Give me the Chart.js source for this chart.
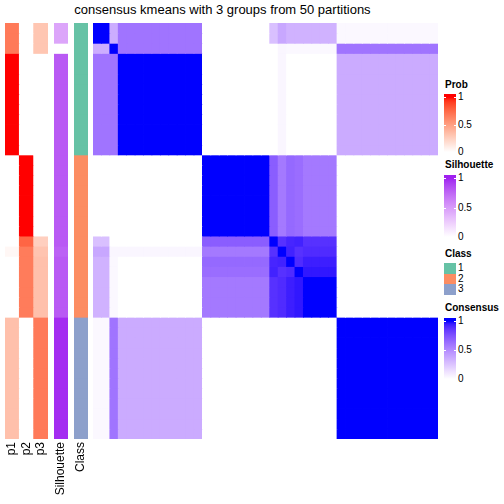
<!DOCTYPE html>
<html>
<head>
<meta charset="utf-8">
<script src="https://cdn.jsdelivr.net/npm/chart.js@4/dist/chart.umd.min.js"></script>
<style>
  body { margin: 0; background: #fff; width: 504px; height: 504px; overflow: hidden; position: relative;
         font-family: "Liberation Sans", Arial, Helvetica, sans-serif; }
  .box { position: absolute; }
  .lg { position: absolute; font-size: 10px; line-height: 12px; white-space: nowrap; color: #000; }
  .lg.t { font-weight: bold; }
</style>
</head>
<body>
<div id="title" class="box" style="left:0;top:2px;width:445px;text-align:center;font-size:13px;line-height:16px;">consensus kmeans with 3 groups from 50 partitions</div>
<div class="box" style="left:5px;top:23px;width:43px;height:486px"><canvas id="probChart"></canvas></div>
<div class="box" style="left:54px;top:23px;width:14px;height:486px"><canvas id="silChart"></canvas></div>
<div class="box" style="left:74px;top:23px;width:14px;height:486px"><canvas id="classChart"></canvas></div>
<div class="box" style="left:93px;top:23px;width:345px;height:416px"><canvas id="consChart"></canvas></div>
<div id="legends"></div>
<script>
"use strict";

// ---- data (41 samples, in plotted order) ----
var classes = [1,1,1,1,1,1,1,1,1,1,1,1,1,
               2,2,2,2,2,2,2,2,2,2,2,2,2,2,2,2,
               3,3,3,3,3,3,3,3,3,3,3,3];
var p1 = [.67,.67,.67,1,1,1,1,1,1,1,1,1,1,
          0,0,0,0,0,0,0,0,0,.04,0,0,0,0,0,0,
          .33,.33,.33,.33,.33,.33,.33,.33,.33,.33,.33,.33];
var p2 = [0,0,0,0,0,0,0,0,0,0,0,0,0,
          1,1,1,1,1,1,1,1,.76,.66,.66,.66,.66,.66,.66,.66,
          0,0,0,0,0,0,0,0,0,0,0,0];
var p3 = [.3,.3,.3,0,0,0,0,0,0,0,0,0,0,
          0,0,0,0,0,0,0,0,.25,.31,.33,.33,.33,.33,.33,.33,
          .67,.67,.67,.67,.67,.67,.67,.67,.67,.67,.67,.67];
var silhouette = [.45,.45,0,.8,.8,.8,.8,.8,.8,.8,.8,.8,.8,
                  .8,.8,.8,.8,.8,.8,.8,.8,.8,.77,.8,.8,.8,.8,.8,.8,
                  .97,.97,.97,.97,.97,.97,.97,.97,.97,.97,.97,.97];
var consensus = [
  [1,1,.35,.6,.6,.6,.6,.6,.6,.6,.6,.6,.6,0,0,0,0,0,0,0,0,.27,.38,.33,.33,.33,.33,.33,.33,.03,.03,.03,.03,.03,.03,.03,.03,.03,.03,.03,.03],
  [1,1,.35,.6,.6,.6,.6,.6,.6,.6,.6,.6,.6,0,0,0,0,0,0,0,0,.27,.38,.33,.33,.33,.33,.33,.33,.03,.03,.03,.03,.03,.03,.03,.03,.03,.03,.03,.03],
  [.35,.35,1,.6,.6,.6,.6,.6,.6,.6,.6,.6,.6,0,0,0,0,0,0,0,0,0,.04,.03,.03,.03,.03,.03,.03,.6,.6,.6,.6,.6,.6,.6,.6,.6,.6,.6,.6],
  [.6,.6,.6,1,1,1,1,1,1,1,1,1,1,0,0,0,0,0,0,0,0,0,.04,0,0,0,0,0,0,.36,.36,.36,.36,.36,.36,.36,.36,.36,.36,.36,.36],
  [.6,.6,.6,1,1,1,1,1,1,1,1,1,1,0,0,0,0,0,0,0,0,0,.04,0,0,0,0,0,0,.36,.36,.36,.36,.36,.36,.36,.36,.36,.36,.36,.36],
  [.6,.6,.6,1,1,1,1,1,1,1,1,1,1,0,0,0,0,0,0,0,0,0,.04,0,0,0,0,0,0,.36,.36,.36,.36,.36,.36,.36,.36,.36,.36,.36,.36],
  [.6,.6,.6,1,1,1,1,1,1,1,1,1,1,0,0,0,0,0,0,0,0,0,.04,0,0,0,0,0,0,.36,.36,.36,.36,.36,.36,.36,.36,.36,.36,.36,.36],
  [.6,.6,.6,1,1,1,1,1,1,1,1,1,1,0,0,0,0,0,0,0,0,0,.04,0,0,0,0,0,0,.36,.36,.36,.36,.36,.36,.36,.36,.36,.36,.36,.36],
  [.6,.6,.6,1,1,1,1,1,1,1,1,1,1,0,0,0,0,0,0,0,0,0,.04,0,0,0,0,0,0,.36,.36,.36,.36,.36,.36,.36,.36,.36,.36,.36,.36],
  [.6,.6,.6,1,1,1,1,1,1,1,1,1,1,0,0,0,0,0,0,0,0,0,.04,0,0,0,0,0,0,.36,.36,.36,.36,.36,.36,.36,.36,.36,.36,.36,.36],
  [.6,.6,.6,1,1,1,1,1,1,1,1,1,1,0,0,0,0,0,0,0,0,0,.04,0,0,0,0,0,0,.36,.36,.36,.36,.36,.36,.36,.36,.36,.36,.36,.36],
  [.6,.6,.6,1,1,1,1,1,1,1,1,1,1,0,0,0,0,0,0,0,0,0,.04,0,0,0,0,0,0,.36,.36,.36,.36,.36,.36,.36,.36,.36,.36,.36,.36],
  [.6,.6,.6,1,1,1,1,1,1,1,1,1,1,0,0,0,0,0,0,0,0,0,.04,0,0,0,0,0,0,.36,.36,.36,.36,.36,.36,.36,.36,.36,.36,.36,.36],
  [0,0,0,0,0,0,0,0,0,0,0,0,0,1,1,1,1,1,1,1,1,.7,.58,.65,.63,.58,.58,.58,.58,0,0,0,0,0,0,0,0,0,0,0,0],
  [0,0,0,0,0,0,0,0,0,0,0,0,0,1,1,1,1,1,1,1,1,.7,.58,.65,.63,.58,.58,.58,.58,0,0,0,0,0,0,0,0,0,0,0,0],
  [0,0,0,0,0,0,0,0,0,0,0,0,0,1,1,1,1,1,1,1,1,.7,.58,.65,.63,.58,.58,.58,.58,0,0,0,0,0,0,0,0,0,0,0,0],
  [0,0,0,0,0,0,0,0,0,0,0,0,0,1,1,1,1,1,1,1,1,.7,.58,.65,.63,.58,.58,.58,.58,0,0,0,0,0,0,0,0,0,0,0,0],
  [0,0,0,0,0,0,0,0,0,0,0,0,0,1,1,1,1,1,1,1,1,.7,.58,.65,.63,.58,.58,.58,.58,0,0,0,0,0,0,0,0,0,0,0,0],
  [0,0,0,0,0,0,0,0,0,0,0,0,0,1,1,1,1,1,1,1,1,.7,.58,.65,.63,.58,.58,.58,.58,0,0,0,0,0,0,0,0,0,0,0,0],
  [0,0,0,0,0,0,0,0,0,0,0,0,0,1,1,1,1,1,1,1,1,.7,.58,.65,.63,.58,.58,.58,.58,0,0,0,0,0,0,0,0,0,0,0,0],
  [0,0,0,0,0,0,0,0,0,0,0,0,0,1,1,1,1,1,1,1,1,.7,.58,.65,.63,.58,.58,.58,.58,0,0,0,0,0,0,0,0,0,0,0,0],
  [.27,.27,0,0,0,0,0,0,0,0,0,0,0,.7,.7,.7,.7,.7,.7,.7,.7,1,.88,.92,.93,.88,.88,.88,.88,0,0,0,0,0,0,0,0,0,0,0,0],
  [.38,.38,.04,.04,.04,.04,.04,.04,.04,.04,.04,.04,.04,.58,.58,.58,.58,.58,.58,.58,.58,.88,1,.93,.88,.9,.9,.9,.9,0,0,0,0,0,0,0,0,0,0,0,0],
  [.33,.33,.03,0,0,0,0,0,0,0,0,0,0,.65,.65,.65,.65,.65,.65,.65,.65,.92,.93,1,.9,.94,.94,.94,.94,0,0,0,0,0,0,0,0,0,0,0,0],
  [.33,.33,.03,0,0,0,0,0,0,0,0,0,0,.63,.63,.63,.63,.63,.63,.63,.63,.93,.88,.9,1,.96,.96,.96,.96,0,0,0,0,0,0,0,0,0,0,0,0],
  [.33,.33,.03,0,0,0,0,0,0,0,0,0,0,.58,.58,.58,.58,.58,.58,.58,.58,.88,.9,.94,.96,1,1,1,1,0,0,0,0,0,0,0,0,0,0,0,0],
  [.33,.33,.03,0,0,0,0,0,0,0,0,0,0,.58,.58,.58,.58,.58,.58,.58,.58,.88,.9,.94,.96,1,1,1,1,0,0,0,0,0,0,0,0,0,0,0,0],
  [.33,.33,.03,0,0,0,0,0,0,0,0,0,0,.58,.58,.58,.58,.58,.58,.58,.58,.88,.9,.94,.96,1,1,1,1,0,0,0,0,0,0,0,0,0,0,0,0],
  [.33,.33,.03,0,0,0,0,0,0,0,0,0,0,.58,.58,.58,.58,.58,.58,.58,.58,.88,.9,.94,.96,1,1,1,1,0,0,0,0,0,0,0,0,0,0,0,0],
  [.03,.03,.6,.36,.36,.36,.36,.36,.36,.36,.36,.36,.36,0,0,0,0,0,0,0,0,0,0,0,0,0,0,0,0,1,1,1,1,1,1,1,1,1,1,1,1],
  [.03,.03,.6,.36,.36,.36,.36,.36,.36,.36,.36,.36,.36,0,0,0,0,0,0,0,0,0,0,0,0,0,0,0,0,1,1,1,1,1,1,1,1,1,1,1,1],
  [.03,.03,.6,.36,.36,.36,.36,.36,.36,.36,.36,.36,.36,0,0,0,0,0,0,0,0,0,0,0,0,0,0,0,0,1,1,1,1,1,1,1,1,1,1,1,1],
  [.03,.03,.6,.36,.36,.36,.36,.36,.36,.36,.36,.36,.36,0,0,0,0,0,0,0,0,0,0,0,0,0,0,0,0,1,1,1,1,1,1,1,1,1,1,1,1],
  [.03,.03,.6,.36,.36,.36,.36,.36,.36,.36,.36,.36,.36,0,0,0,0,0,0,0,0,0,0,0,0,0,0,0,0,1,1,1,1,1,1,1,1,1,1,1,1],
  [.03,.03,.6,.36,.36,.36,.36,.36,.36,.36,.36,.36,.36,0,0,0,0,0,0,0,0,0,0,0,0,0,0,0,0,1,1,1,1,1,1,1,1,1,1,1,1],
  [.03,.03,.6,.36,.36,.36,.36,.36,.36,.36,.36,.36,.36,0,0,0,0,0,0,0,0,0,0,0,0,0,0,0,0,1,1,1,1,1,1,1,1,1,1,1,1],
  [.03,.03,.6,.36,.36,.36,.36,.36,.36,.36,.36,.36,.36,0,0,0,0,0,0,0,0,0,0,0,0,0,0,0,0,1,1,1,1,1,1,1,1,1,1,1,1],
  [.03,.03,.6,.36,.36,.36,.36,.36,.36,.36,.36,.36,.36,0,0,0,0,0,0,0,0,0,0,0,0,0,0,0,0,1,1,1,1,1,1,1,1,1,1,1,1],
  [.03,.03,.6,.36,.36,.36,.36,.36,.36,.36,.36,.36,.36,0,0,0,0,0,0,0,0,0,0,0,0,0,0,0,0,1,1,1,1,1,1,1,1,1,1,1,1],
  [.03,.03,.6,.36,.36,.36,.36,.36,.36,.36,.36,.36,.36,0,0,0,0,0,0,0,0,0,0,0,0,0,0,0,0,1,1,1,1,1,1,1,1,1,1,1,1],
  [.03,.03,.6,.36,.36,.36,.36,.36,.36,.36,.36,.36,.36,0,0,0,0,0,0,0,0,0,0,0,0,0,0,0,0,1,1,1,1,1,1,1,1,1,1,1,1]
];
var probLabels = ["p1", "p2", "p3"];
var classNames = ["1", "2", "3"];
var classColors = ["#66C2A5", "#FC8D62", "#8DA0CB"];
var gradientBreaks = [0, 0.5, 1];
var gradientBreakLabels = ["0", "0.5", "1"];

// ---- colour ramps, interpolated in LAB like colorRamp2 ----
function toLin(c) { c /= 255; return c <= 0.04045 ? c / 12.92 : Math.pow((c + 0.055) / 1.055, 2.4); }
function toSrgb(v) {
    v = Math.max(0, Math.min(1, v));
    return Math.round(255 * (v <= 0.0031308 ? 12.92 * v : 1.055 * Math.pow(v, 1 / 2.4) - 0.055));
}
function hexToLab(hex) {
    var r = toLin(parseInt(hex.substr(1, 2), 16)), g = toLin(parseInt(hex.substr(3, 2), 16)), b = toLin(parseInt(hex.substr(5, 2), 16));
    var x = (0.4124 * r + 0.3576 * g + 0.1805 * b) / 0.95047;
    var y = 0.2126 * r + 0.7152 * g + 0.0722 * b;
    var z = (0.0193 * r + 0.1192 * g + 0.9505 * b) / 1.08883;
    var f = function(t) { return t > 0.008856 ? Math.cbrt(t) : 7.787 * t + 16 / 116; };
    return [116 * f(y) - 16, 500 * (f(x) - f(y)), 200 * (f(y) - f(z))];
}
function labToRgb(lab) {
    var fy = (lab[0] + 16) / 116, fx = fy + lab[1] / 500, fz = fy - lab[2] / 200;
    var inv = function(t) { return t * t * t > 0.008856 ? t * t * t : (t - 16 / 116) / 7.787; };
    var x = inv(fx) * 0.95047, y = inv(fy), z = inv(fz) * 1.08883;
    var r = 3.2406 * x - 1.5372 * y - 0.4986 * z;
    var g = -0.9689 * x + 1.8758 * y + 0.0415 * z;
    var b = 0.0557 * x - 0.2040 * y + 1.0570 * z;
    return "rgb(" + toSrgb(r) + "," + toSrgb(g) + "," + toSrgb(b) + ")";
}
function ramp(lo, hi) {
    var a = hexToLab(lo), b = hexToLab(hi);
    return function(t) {
        t = Math.max(0, Math.min(1, t));
        return labToRgb([a[0] + (b[0] - a[0]) * t, a[1] + (b[1] - a[1]) * t, a[2] + (b[2] - a[2]) * t]);
    };
}
var probColor = ramp("#FFFFFF", "#FF0000");
var silColor = ramp("#FFFFFF", "#A020F0");
var consColor = ramp("#FFFFFF", "#0000FF");

Chart.defaults.font.family = '"Liberation Sans", Arial, Helvetica, sans-serif';

// one floating bar per cell: dataset = row, category = column
function heatChart(id, labels, colors, showLabels) {
    var nRows = colors.length;
    var datasets = colors.map(function(rowColors, r) {
        return {
            data: labels.map(function() { return [r, r + 1]; }),
            backgroundColor: rowColors,
            borderWidth: 0,
            grouped: false,
            barPercentage: 1,
            categoryPercentage: 1,
            inflateAmount: 0.4
        };
    });
    return new Chart(document.getElementById(id), {
        type: "bar",
        data: { labels: labels, datasets: datasets },
        options: {
            responsive: true,
            maintainAspectRatio: false,
            animation: false,
            events: [],
            layout: { padding: 0 },
            plugins: { legend: { display: false }, tooltip: { enabled: false }, title: { display: false } },
            scales: {
                x: {
                    display: showLabels,
                    grid: { display: false, drawTicks: false },
                    border: { display: false },
                    ticks: { autoSkip: false, minRotation: 90, maxRotation: 90, padding: 3, color: "#000", font: { size: 12 } },
                    afterFit: function(s) {
                        if (!showLabels) return;
                        s.height = 70; s.paddingLeft = 0; s.paddingRight = 0;
                    }
                },
                y: { display: false, min: 0, max: nRows, reverse: true }
            }
        }
    });
}

var probColors = classes.map(function(c, i) { return [probColor(p1[i]), probColor(p2[i]), probColor(p3[i])]; });
var silColors = silhouette.map(function(v) { return [silColor(v)]; });
var clsColors = classes.map(function(c) { return [classColors[c - 1]]; });
var consColors = consensus.map(function(row) { return row.map(consColor); });
var sampleIds = consensus.map(function(r, i) { return "s" + (i + 1); });

heatChart("probChart", probLabels, probColors, true);
heatChart("silChart", ["Silhouette"], silColors, true);
heatChart("classChart", ["Class"], clsColors, true);
heatChart("consChart", sampleIds, consColors, false);

// ---- legends ----
var legendBox = document.getElementById("legends");
var LX = 444, LW = 12;
function addText(txt, x, yc, bold) {
    var d = document.createElement("div");
    d.className = bold ? "lg t" : "lg";
    d.style.left = x + "px";
    d.style.top = (yc - 6) + "px";
    d.textContent = txt;
    legendBox.appendChild(d);
}
function addRect(x, y, w, h, bg) {
    var d = document.createElement("div");
    d.style.cssText = "position:absolute;left:" + x + "px;top:" + y + "px;width:" + w + "px;height:" + h + "px;background:" + bg;
    legendBox.appendChild(d);
}
function gradientLegend(title, titleY, y1, y0, colorFn) {
    addText(title, LX + 1, titleY, true);
    var top = y1 - 3, bottom = y0 + 3;
    var stops = [];
    for (var k = 0; k <= 20; k++) {
        var v = k / 20;
        var y = y0 - v * (y0 - y1);
        stops.push(colorFn(v) + " " + ((bottom - y) / (bottom - top) * 100).toFixed(1) + "%");
    }
    addRect(LX, top, LW, bottom - top, "linear-gradient(to top," + colorFn(0) + "," + stops.join(",") + "," + colorFn(1) + ")");
    gradientBreaks.forEach(function(v, i) {
        var y = y0 - v * (y0 - y1);
        addRect(LX, Math.round(y), 2, 1, "#fff");
        addRect(LX + LW - 2, Math.round(y), 2, 1, "#fff");
        addText(gradientBreakLabels[i], LX + LW + 2, y, false);
    });
}
gradientLegend("Prob", 85, 97, 152, probColor);
gradientLegend("Silhouette", 165, 178, 237, silColor);
addText("Class", LX + 1, 254, true);
classNames.forEach(function(name, i) {
    addRect(LX, 263 + i * 10.5, LW, 10.5, classColors[i]);
    addText(name, LX + LW + 2, 268 + i * 10.5, false);
});
gradientLegend("Consensus", 307.5, 321, 379, consColor);
</script>
</body>
</html>
